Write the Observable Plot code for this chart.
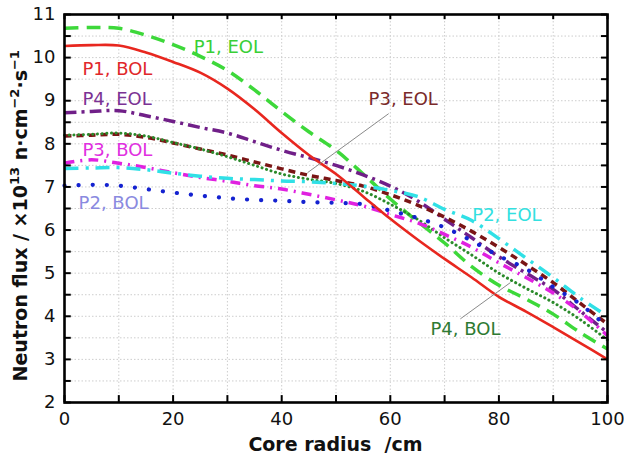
<!DOCTYPE html>
<html><head><meta charset="utf-8">
<script src="https://cdn.jsdelivr.net/npm/d3@7"></script>
<script src="https://cdn.jsdelivr.net/npm/@observablehq/plot@0.6"></script>
<style>body{margin:0;background:#fff;}</style>
</head><body><div id="chart"></div>
<script>
// ---- data ----
const radius = [0,5,10,15,20,25,30,35,40,45,50,55,60,65,70,75,80,85,90,95,100];
const p1EOL = [10.68,10.70,10.68,10.52,10.30,10.03,9.70,9.25,8.75,8.28,7.85,7.30,6.72,6.20,5.70,5.15,4.72,4.40,4.05,3.62,3.24];
const p1BOL = [10.27,10.29,10.28,10.12,9.90,9.65,9.28,8.80,8.25,7.74,7.30,6.78,6.26,5.78,5.33,4.90,4.45,4.11,3.75,3.38,3.00];
const p4EOL = [8.72,8.75,8.77,8.65,8.52,8.38,8.25,8.05,7.85,7.68,7.50,7.28,7.02,6.68,6.25,5.82,5.38,5.00,4.62,4.12,3.62];
const p3EOL = [8.18,8.20,8.22,8.15,8.02,7.88,7.74,7.58,7.42,7.27,7.15,7.02,6.82,6.58,6.30,5.97,5.60,5.20,4.78,4.30,3.82];
const p4BOL = [8.20,8.22,8.25,8.18,8.03,7.88,7.70,7.50,7.30,7.18,7.08,6.90,6.60,6.25,5.82,5.42,5.00,4.65,4.32,3.92,3.45];
const p3BOL = [7.55,7.63,7.55,7.45,7.33,7.22,7.13,7.03,6.95,6.83,6.70,6.56,6.36,6.17,5.90,5.60,5.24,4.90,4.54,4.10,3.55];
const p2EOL = [7.43,7.44,7.45,7.40,7.32,7.25,7.20,7.17,7.14,7.12,7.08,7.02,6.92,6.78,6.48,6.22,5.80,5.35,4.90,4.42,4.00];
const p2BOL = [7.03,7.05,7.03,6.95,6.87,6.80,6.74,6.70,6.68,6.65,6.63,6.60,6.45,6.28,6.06,5.75,5.40,5.10,4.68,4.28,3.75];

const seriesNames = ["P1, EOL","P4, EOL","P3, EOL","P4, BOL","P3, BOL","P2, EOL","P2, BOL","P1, BOL"];
const seriesValues = [p1EOL,p4EOL,p3EOL,p4BOL,p3BOL,p2EOL,p2BOL,p1BOL];

const xTicks = [0,20,40,60,80,100];
const xMinorTicks = [0,10,20,30,40,50,60,70,80,90,100];
const yTicks = [2,3,4,5,6,7,8,9,10,11];
const yMinorTicks = [2,2.5,3,3.5,4,4.5,5,5.5,6,6.5,7,7.5,8,8.5,9,9.5,10,10.5,11];

const labelNames = ["P1, EOL","P1, BOL","P4, EOL","P3, BOL","P2, BOL","P3, EOL","P2, EOL","P4, BOL"];
const labelR = [23.8,3.3,3.3,3.3,2.6,56,75.1,67.4];
const labelFlux = [10.24,9.74,9.03,7.84,6.62,9.03,6.34,3.71];

const leaderR1 = [59.7,72.9];
const leaderF1 = [8.70,3.94];
const leaderR2 = [44.75,82.1];
const leaderF2 = [7.33,4.78];

// ---- styles ----
const styles = {
  "P1, EOL": {stroke:"#3dd83a", width:3.5, dash:"14,8", cap:"butt"},
  "P1, BOL": {stroke:"#e8271f", width:2.6, dash:null, cap:"butt"},
  "P4, EOL": {stroke:"#701f88", width:3.5, dash:"12,5,3,5", cap:"butt"},
  "P3, EOL": {stroke:"#7a1515", width:3.5, dash:"7,5", cap:"butt"},
  "P4, BOL": {stroke:"#2b8a2b", width:3, dash:"0.1,4.6", cap:"round"},
  "P3, BOL": {stroke:"#e021e0", width:3.5, dash:"10,6,2,6", cap:"butt"},
  "P2, EOL": {stroke:"#30e0e6", width:3.5, dash:"14,7,3,7", cap:"butt"},
  "P2, BOL": {stroke:"#1422d0", width:4.2, dash:"0.1,14", cap:"round"}
};
const labelColors = {
  "P1, EOL":"#39cf36","P1, BOL":"#e0282a","P4, EOL":"#7b3294","P3, BOL":"#e030e0",
  "P2, BOL":"#8a8ae0","P3, EOL":"#7a2a2a","P2, EOL":"#33e0e0","P4, BOL":"#2e7a32"
};

const rows = [];
seriesNames.forEach((s,i)=>radius.forEach((r,j)=>rows.push({series:s, r, flux:seriesValues[i][j]})));
const labels = labelNames.map((t,i)=>({text:t, r:labelR[i], flux:labelFlux[i]}));
const leaders = leaderR1.map((_,i)=>({r1:leaderR1[i], f1:leaderF1[i], r2:leaderR2[i], f2:leaderF2[i]}));

const gridStyle = {stroke:"#cdcdcd", strokeOpacity:1, strokeDasharray:"1.5,2", strokeWidth:1};

const marks = [
  Plot.gridY(yMinorTicks.filter(v=>v>2 && v<11), gridStyle),
  Plot.gridX(xMinorTicks.filter(v=>v>0 && v<100), gridStyle),
  ...seriesNames.map(s=>Plot.line(rows.filter(d=>d.series===s), {
    x:"r", y:"flux", stroke:styles[s].stroke, strokeWidth:styles[s].width,
    strokeDasharray:styles[s].dash, strokeLinecap:styles[s].cap, curve:"catmull-rom"
  })),
  Plot.link(leaders, {x1:"r1", y1:"f1", x2:"r2", y2:"f2", stroke:"#8a8a8a", strokeWidth:1}),
  Plot.text(labels, {x:"r", y:"flux", text:"text", textAnchor:"start", fontSize:18,
    fill:d=>labelColors[d.text]}),
  // inward ticks on all four sides
  Plot.ruleX(xMinorTicks, {x:d=>d, y1:2, y2:2.16, stroke:"black", strokeWidth:2}),
  Plot.ruleX(xMinorTicks, {x:d=>d, y1:11, y2:10.88, stroke:"black", strokeWidth:2}),
  Plot.ruleY(yMinorTicks, {y:d=>d, x1:0, x2:1.25, stroke:"black", strokeWidth:2}),
  Plot.ruleY(yMinorTicks, {y:d=>d, x1:100, x2:98.9, stroke:"black", strokeWidth:2}),
  Plot.frame({stroke:"black", strokeWidth:2.6}),
  Plot.axisX(xTicks, {tickSize:0, tickPadding:10, fontSize:18, label:null}),
  Plot.axisY(yTicks, {tickSize:0, tickPadding:9, fontSize:18, label:null})
];

const plot = Plot.plot({
  width:624, height:458,
  marginLeft:64, marginRight:17, marginTop:14, marginBottom:56,
  x:{domain:[0,100]},
  y:{domain:[2,11]},
  style:{fontFamily:"DejaVu Sans", fontSize:"18px", color:"#111", background:"#fff", overflow:"visible"},
  marks
});
document.getElementById("chart").appendChild(plot);

// axis titles
const svg = d3.select(plot);
const xs = plot.scale("x"), ys = plot.scale("y");
svg.append("text")
  .attr("x", xs.apply(50)).attr("y", 451)
  .attr("text-anchor","middle").attr("font-weight","bold").attr("font-size",19)
  .attr("fill","#111").attr("font-family","DejaVu Sans")
  .attr("xml:space","preserve")
  .text("Core radius  /cm");
const yt = svg.append("text")
  .attr("transform", `translate(27,${ys.apply(6.32)}) rotate(-90)`)
  .attr("text-anchor","middle").attr("font-weight","bold").attr("font-size",19)
  .attr("fill","#111").attr("font-family","DejaVu Sans");
yt.append("tspan").text("Neutron flux / \u00d710");
yt.append("tspan").attr("font-size",13).attr("dy",-8).text("13");
yt.append("tspan").attr("dy",8).text(" n\u00b7cm");
yt.append("tspan").attr("font-size",13).attr("dy",-8).text("\u22122");
yt.append("tspan").attr("dy",8).text("\u00b7s");
yt.append("tspan").attr("font-size",13).attr("dy",-8).text("\u22121");
</script>
</body></html>
